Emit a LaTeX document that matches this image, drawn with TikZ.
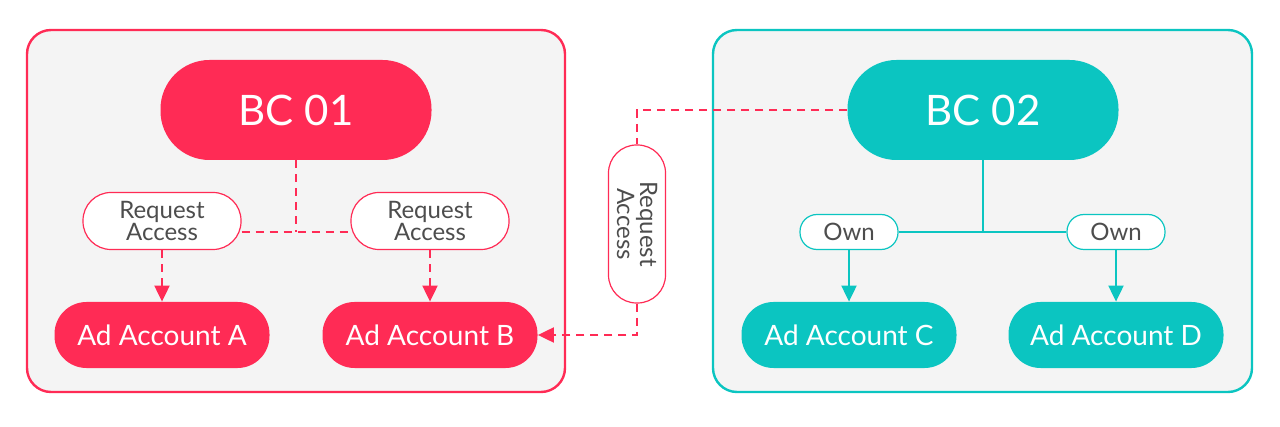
\documentclass[tikz,border=0pt]{standalone}
\usepackage{fontspec}
\setmainfont{Lato}
\usetikzlibrary{arrows.meta,backgrounds}

\definecolor{bcred}{RGB}{255,43,85}
\definecolor{bcteal}{RGB}{11,197,193}
\definecolor{panelgray}{RGB}{244,244,244}
\definecolor{labelgray}{RGB}{77,77,77}

\tikzset{
  panelbox/.style={draw=#1, line width=1.2pt, fill=panelgray, rounded corners=12pt},
  bcpill/.style={rectangle, fill=#1, text=white, rounded corners=24.5pt,
    minimum width=135.5pt, minimum height=50pt, inner sep=0pt,
    font=\fontsize{21}{24}\selectfont},
  account/.style={rectangle, fill=#1, text=white, rounded corners=16pt,
    minimum width=107.5pt, minimum height=33pt, inner sep=0pt,
    font=\fontsize{14}{16}\selectfont},
  reqpill/.style={rectangle, draw=bcred, fill=white, text=labelgray, line width=0.6pt,
    rounded corners=14pt, minimum width=79pt, minimum height=28.5pt, inner sep=0pt,
    align=center, font=\fontsize{12}{11.5}\selectfont},
  ownpill/.style={rectangle, draw=bcteal, fill=white, text=labelgray, line width=0.6pt,
    rounded corners=8.5pt, minimum width=49pt, minimum height=17.5pt, inner sep=0pt,
    font=\fontsize{12}{13}\selectfont},
  reqlink/.style={draw=bcred, line width=1pt, dash pattern=on 4pt off 3pt},
  ownlink/.style={draw=bcteal, line width=1pt},
  tip/.style={-{Triangle[width=7.5pt,length=8pt]}}
}

\begin{document}
\begin{tikzpicture}[x=0.5pt,y=-0.5pt]
\useasboundingbox (0,0) rectangle (1280,427);

% Panels
\begin{scope}[on background layer]
  \draw[panelbox=bcred]  (27,30) rectangle (565,392);
  \draw[panelbox=bcteal] (713,30) rectangle (1252,392);
\end{scope}

% BC 01
\node[bcpill=bcred] (bc1) at (296,110) {BC 01};
\node[reqpill] (ra1) at (162,221) {Request\\Access};
\node[reqpill] (ra2) at (430,221) {Request\\Access};
\node[account=bcred] (ada) at (162,335) {Ad Account A};
\node[account=bcred] (adb) at (430,335) {Ad Account B};

% cross request
\node[reqpill, rotate=-90] (ra3) at (637,224) {Request\\Access};

% BC 02
\node[bcpill=bcteal] (bc2) at (983,110) {BC 02};
\node[ownpill] (own1) at (849,232) {Own};
\node[ownpill] (own2) at (1116,232) {Own};
\node[account=bcteal] (adc) at (849,335) {Ad Account C};
\node[account=bcteal] (add) at (1116,335) {Ad Account D};

\coordinate (j1) at (296,232);
\coordinate (j2) at (983,232);

% Connectors
\begin{scope}[on background layer]
  \draw[reqlink] (bc1) -- (j1);
  \draw[reqlink] (ra1.east |- j1) -- (ra2.west |- j1);
  \draw[reqlink, tip] (ra1) -- (ada);
  \draw[reqlink, tip] (ra2) -- (adb);
  \draw[reqlink] (bc2) -| (ra3);
  \draw[reqlink, tip] (ra3) |- (adb);

  \draw[ownlink] (bc2) -- (j2);
  \draw[ownlink] (own1) -- (own2);
  \draw[ownlink, tip] (own1) -- (adc);
  \draw[ownlink, tip] (own2) -- (add);
\end{scope}
\end{tikzpicture}
\end{document}
